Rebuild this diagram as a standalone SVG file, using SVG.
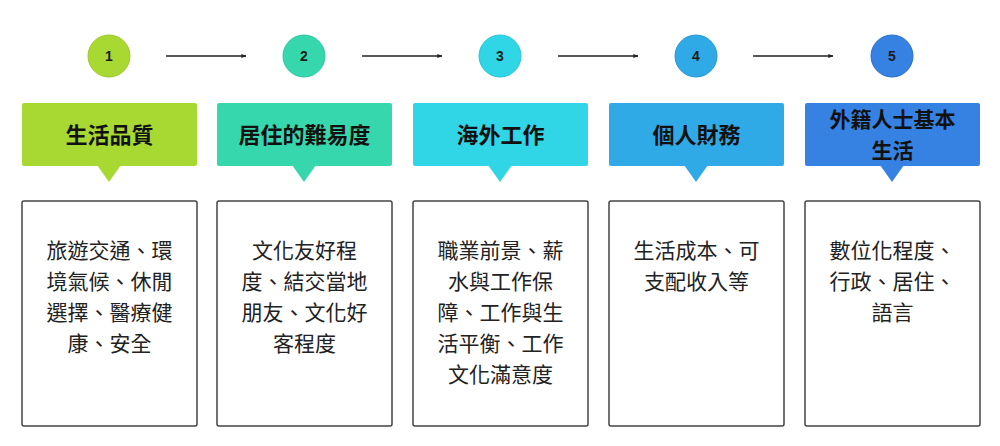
<svg xmlns="http://www.w3.org/2000/svg" width="1000" height="446" viewBox="0 0 1000 446">
<defs>
<style>
.num{font-family:"Liberation Sans","Noto Sans",Arial,sans-serif;font-weight:bold;font-size:14px;fill:#1a1a1a;text-anchor:middle}
.hd{font-family:"Noto Sans CJK TC","Noto Sans CJK SC",sans-serif;font-weight:bold;font-size:22px;fill:#111;text-anchor:middle}
.hd2{font-family:"Noto Sans CJK TC","Noto Sans CJK SC",sans-serif;font-weight:bold;font-size:21px;fill:#111;text-anchor:middle}
.bd{font-family:"Noto Sans CJK TC","Noto Sans CJK SC",sans-serif;font-size:21px;fill:#222;text-anchor:middle}
.card{fill:#fff;stroke:#444;stroke-width:1.5}
.conn{stroke:#222;stroke-width:1.3;fill:none}
</style>
<marker id="ah" viewBox="0 0 10 10" refX="9" refY="5" markerWidth="4" markerHeight="4" orient="auto">
<path d="M0,1 L10,5 L0,9 z" fill="#222"/>
</marker>
</defs>
<rect width="1000" height="446" fill="#fff"/>
<g id="connectors">
<line class="conn" x1="166" y1="56" x2="246" y2="56" marker-end="url(#ah)"/>
<line class="conn" x1="362" y1="56" x2="442" y2="56" marker-end="url(#ah)"/>
<line class="conn" x1="558" y1="56" x2="638" y2="56" marker-end="url(#ah)"/>
<line class="conn" x1="753" y1="56" x2="833" y2="56" marker-end="url(#ah)"/>
</g>
<g id="step1">
<circle cx="109" cy="56" r="21" fill="#a8d932" stroke="#9cc92a" stroke-width="1"/>
<text class="num" x="109" y="61">1</text>
<rect x="22" y="103" width="175" height="63" rx="2" fill="#a8d932"/>
<path d="M97,165 L121,165 L109,182 z" fill="#a8d932"/>
<text class="hd" x="109.5" y="143">生活品質</text>
<rect class="card" x="22" y="201" width="175" height="225" rx="2"/>
<text class="bd" x="109.5" y="258">旅遊交通、環</text>
<text class="bd" x="109.5" y="289">境氣候、休閒</text>
<text class="bd" x="109.5" y="320">選擇、醫療健</text>
<text class="bd" x="109.5" y="351">康、安全</text>
</g>
<g id="step2">
<circle cx="304" cy="56" r="21" fill="#37d7ae" stroke="#2fc79f" stroke-width="1"/>
<text class="num" x="304" y="61">2</text>
<rect x="217" y="103" width="175" height="63" rx="2" fill="#37d7ae"/>
<path d="M292,165 L316,165 L304,182 z" fill="#37d7ae"/>
<text class="hd" x="304.5" y="143">居住的難易度</text>
<rect class="card" x="217" y="201" width="175" height="225" rx="2"/>
<text class="bd" x="304.5" y="258">文化友好程</text>
<text class="bd" x="304.5" y="289">度、結交當地</text>
<text class="bd" x="304.5" y="320">朋友、文化好</text>
<text class="bd" x="304.5" y="351">客程度</text>
</g>
<g id="step3">
<circle cx="500" cy="56" r="21" fill="#31d6e6" stroke="#29c5d6" stroke-width="1"/>
<text class="num" x="500" y="61">3</text>
<rect x="413" y="103" width="175" height="63" rx="2" fill="#31d6e6"/>
<path d="M488,165 L512,165 L500,182 z" fill="#31d6e6"/>
<text class="hd" x="500.5" y="143">海外工作</text>
<rect class="card" x="413" y="201" width="175" height="225" rx="2"/>
<text class="bd" x="500.5" y="258">職業前景、薪</text>
<text class="bd" x="500.5" y="289">水與工作保</text>
<text class="bd" x="500.5" y="320">障、工作與生</text>
<text class="bd" x="500.5" y="351">活平衡、工作</text>
<text class="bd" x="500.5" y="382">文化滿意度</text>
</g>
<g id="step4">
<circle cx="696" cy="56" r="21" fill="#2faae7" stroke="#2798d4" stroke-width="1"/>
<text class="num" x="696" y="61">4</text>
<rect x="609" y="103" width="175" height="63" rx="2" fill="#2faae7"/>
<path d="M684,165 L708,165 L696,182 z" fill="#2faae7"/>
<text class="hd" x="696.5" y="143">個人財務</text>
<rect class="card" x="609" y="201" width="175" height="225" rx="2"/>
<text class="bd" x="696.5" y="258">生活成本、可</text>
<text class="bd" x="696.5" y="289">支配收入等</text>
</g>
<g id="step5">
<circle cx="892" cy="56" r="21" fill="#3682e2" stroke="#2a6fcc" stroke-width="1"/>
<text class="num" x="892" y="61">5</text>
<rect x="805" y="103" width="175" height="63" rx="2" fill="#3682e2"/>
<path d="M880,165 L904,165 L892,182 z" fill="#3682e2"/>
<text class="hd2" x="892.5" y="127">外籍人士基本</text>
<text class="hd2" x="892.5" y="158">生活</text>
<rect class="card" x="805" y="201" width="175" height="225" rx="2"/>
<text class="bd" x="892.5" y="258">數位化程度、</text>
<text class="bd" x="892.5" y="289">行政、居住、</text>
<text class="bd" x="892.5" y="320">語言</text>
</g>
</svg>
